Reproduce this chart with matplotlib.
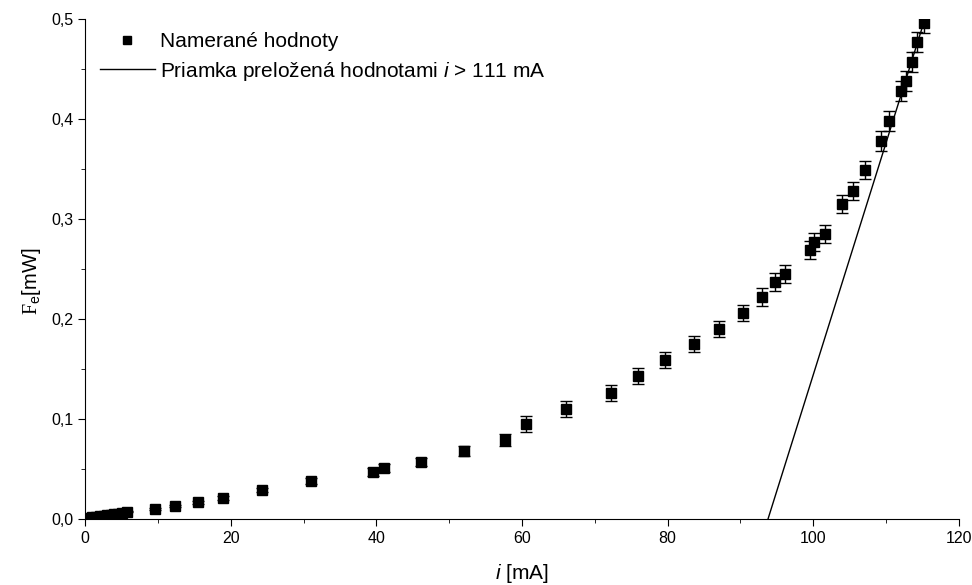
import numpy as np
import matplotlib.pyplot as plt
from matplotlib.lines import Line2D
from matplotlib.ticker import FuncFormatter, MultipleLocator

# measured values
i_mA = [0.5, 1.0, 1.5, 2.0, 2.6, 3.0, 3.5, 4.0, 4.5, 5.1, 5.8,
        9.6, 12.3, 15.5, 18.9, 24.3, 31.0, 39.6, 41.1, 46.1, 52.0,
        57.7, 60.5, 66.1, 72.2, 76.0, 79.6, 83.6, 87.1, 90.3, 93.0,
        94.8, 96.1, 99.5, 100.1, 101.6, 104.0, 105.5, 107.1, 109.3,
        110.4, 112.1, 112.8, 113.6, 114.2, 115.2]
P_mW = [0.001, 0.0015, 0.002, 0.0025, 0.003, 0.0035, 0.004, 0.0045, 0.005, 0.006, 0.007,
        0.010, 0.013, 0.0166, 0.0206, 0.0287, 0.038, 0.047, 0.0507, 0.0567, 0.0677,
        0.079, 0.0947, 0.110, 0.126, 0.143, 0.159, 0.175, 0.190, 0.206, 0.222,
        0.237, 0.245, 0.269, 0.277, 0.285, 0.315, 0.328, 0.349, 0.378,
        0.398, 0.428, 0.438, 0.457, 0.477, 0.496]
P_err = [0.0005, 0.0005, 0.0005, 0.0005, 0.0005, 0.0005, 0.0005, 0.0005, 0.0005, 0.0005, 0.0005,
         0.001, 0.001, 0.0015, 0.002, 0.002, 0.003, 0.004, 0.004, 0.004, 0.005,
         0.006, 0.008, 0.008, 0.008, 0.008, 0.008, 0.008, 0.008, 0.008, 0.009,
         0.009, 0.009, 0.009, 0.009, 0.009, 0.009, 0.009, 0.009, 0.01,
         0.01, 0.01, 0.01, 0.01, 0.01, 0.01]

# linear fit for i > 111 mA
fit_slope = 0.0232
fit_icpt = -2.176
fit_x = np.linspace(-fit_icpt / fit_slope, 115.4, 50)

plt.rcParams['font.family'] = ['Liberation Sans', 'DejaVu Sans']
plt.rcParams['mathtext.fontset'] = 'custom'
plt.rcParams['mathtext.it'] = 'Liberation Sans:italic'
plt.rcParams['mathtext.rm'] = 'Liberation Serif'
plt.rcParams['mathtext.sf'] = 'Liberation Sans'

fig = plt.figure(figsize=(9.72, 5.85), dpi=100)
ax = fig.add_axes([0.0875, 0.113, 0.899, 0.855])

ax.errorbar(i_mA, P_mW, yerr=P_err, fmt='s', color='black', ms=6.5,
            capsize=4.5, elinewidth=1, capthick=1)
line, = ax.plot(fit_x, fit_icpt + fit_slope * fit_x, color='black', lw=1)

ax.set_xlim(0, 120)
ax.set_ylim(0, 0.5)
ax.xaxis.set_major_locator(MultipleLocator(20))
ax.xaxis.set_minor_locator(MultipleLocator(10))
ax.yaxis.set_major_locator(MultipleLocator(0.1))
ax.yaxis.set_minor_locator(MultipleLocator(0.05))
ax.yaxis.set_major_formatter(FuncFormatter(lambda v, p: f'{v:.1f}'.replace('.', ',')))
ax.tick_params(which='both', direction='out', labelsize=11.5)
ax.tick_params(which='major', length=5)
ax.tick_params(which='minor', length=3)
for s in ['top', 'right']:
    ax.spines[s].set_visible(False)

ax.set_xlabel(r'$i$ [mA]', fontsize=15, labelpad=12)
ax.set_ylabel(r'$\mathrm{F}_{\mathsf{e}}$[mW]', fontsize=14.5, labelpad=6, y=0.475)

marker_h = Line2D([], [], ls='none', marker='s', ms=5.5, color='black')
ax.legend([marker_h, line],
          ['Namerané hodnoty', r'Priamka preložená hodnotami $i$ > 111 mA'],
          loc='upper left', frameon=False, fontsize=15, handlelength=2.65,
          bbox_to_anchor=(-0.001, 1.005), borderaxespad=0.35,
          handletextpad=0.25, labelspacing=0.42)

plt.savefig('out.png', dpi=100)
